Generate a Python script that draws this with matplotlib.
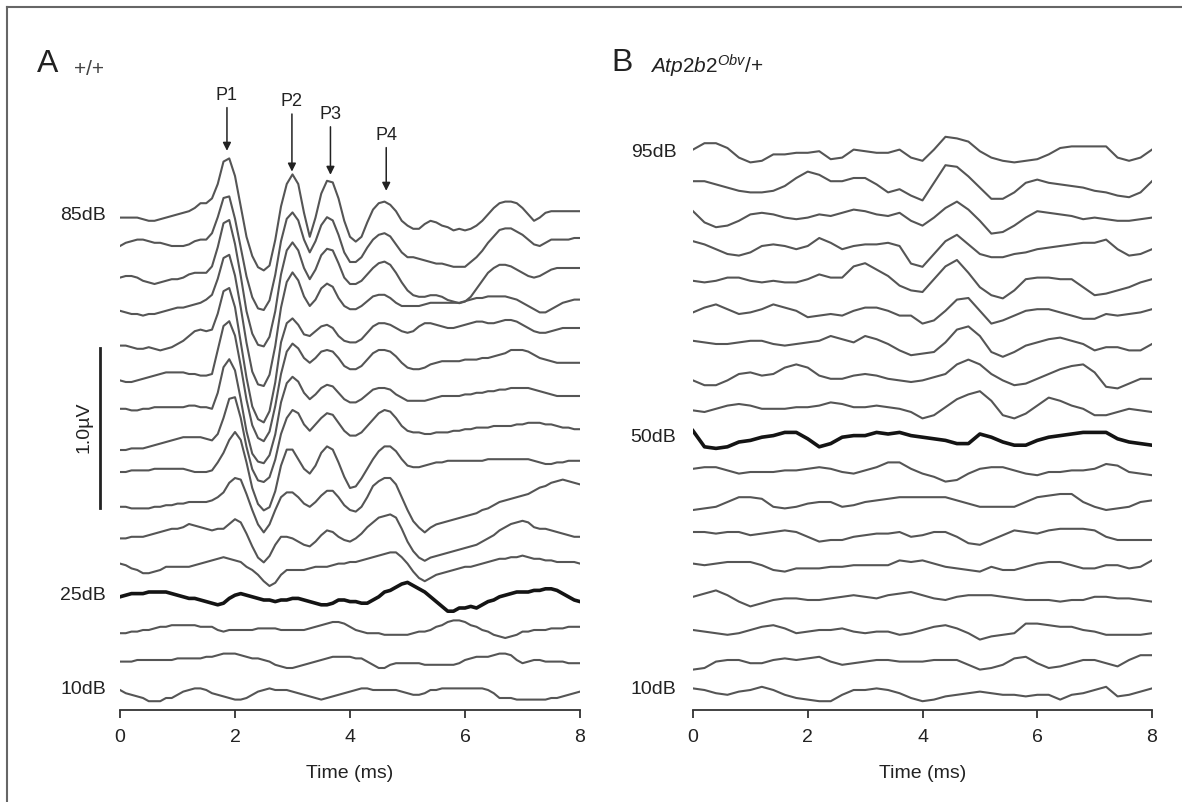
import numpy as np
import matplotlib.pyplot as plt
from matplotlib.lines import Line2D

plt.rcParams['font.family'] = ['Liberation Sans', 'DejaVu Sans']
plt.rcParams['mathtext.fontset'] = 'custom'
plt.rcParams['mathtext.it'] = 'Liberation Sans:italic'
plt.rcParams['mathtext.rm'] = 'Liberation Sans'

# sampling times (ms)
time_a = np.linspace(0, 8, 81)
time_b = np.linspace(0, 8, 41)

# stimulus levels (dB)
levels_a = [85, 80, 75, 70, 65, 60, 55, 50, 45, 40, 35, 30, 25, 20, 15, 10]
levels_b = [95, 90, 85, 80, 75, 70, 65, 60, 55, 50, 45, 40, 35, 30, 25, 20, 15, 10]

# ABR amplitudes, units of 0.01 uV
# panel A (+/+), one value every 0.1 ms
a85 = [-1, -1, -1, -1, -2, -3, -3, -2, -1, 0,
       1, 2, 3, 5, 8, 8, 11, 20, 34, 36,
       25, 6, -13, -25, -32, -34, -31, -15, 6, 20,
       26, 20, 2, -13, -1, 14, 22, 21, 11, -3,
       -13, -16, -13, -4, 4, 8, 9, 7, 3, -3,
       -6, -8, -8, -5, -3, -4, -6, -7, -9, -8,
       -9, -8, -6, -3, 1, 5, 8, 9, 9, 8,
       5, 1, -3, -1, 2, 3, 3, 3, 3, 3,
       3]
a80 = [1, 3, 4, 5, 5, 4, 3, 3, 2, 1,
       1, 1, 2, 4, 5, 5, 9, 19, 31, 32,
       18, 0, -18, -31, -38, -39, -33, -17, 4, 18,
       22, 17, 5, -3, 4, 14, 19, 17, 8, -3,
       -9, -9, -6, 0, 5, 8, 9, 7, 2, -3,
       -6, -6, -7, -8, -9, -10, -10, -11, -12, -12,
       -12, -9, -6, -2, 3, 7, 11, 12, 12, 10,
       8, 5, 2, 1, 3, 5, 5, 5, 5, 6,
       6]
a75 = [1, 2, 2, 1, -1, -2, -3, -2, -1, 0,
       0, 1, 3, 4, 4, 4, 8, 20, 35, 37,
       22, 2, -20, -34, -41, -42, -36, -20, 3, 18,
       23, 18, 7, 0, 6, 15, 19, 18, 10, 1,
       -3, -3, -1, 3, 7, 10, 11, 9, 4, -2,
       -7, -10, -11, -11, -10, -10, -11, -13, -14, -15,
       -14, -11, -6, -1, 4, 7, 9, 9, 8, 6,
       4, 2, 1, 2, 4, 6, 7, 7, 7, 7,
       7]
a70 = [0, -1, -2, -2, -3, -2, -2, -1, 0, 1,
       2, 2, 3, 4, 5, 7, 10, 20, 33, 35,
       22, 2, -20, -38, -46, -47, -40, -22, 2, 18,
       24, 19, 9, 3, 7, 14, 17, 15, 8, 3,
       1, 1, 3, 6, 9, 10, 10, 8, 5, 3,
       3, 3, 3, 4, 5, 5, 5, 5, 5, 5,
       6, 7, 8, 8, 9, 9, 9, 9, 8, 7,
       5, 3, 1, -1, -1, 1, 3, 5, 6, 7,
       7]
a65 = [-2, -2, -3, -4, -4, -3, -4, -5, -4, -3,
       -1, 1, 4, 7, 8, 7, 8, 18, 32, 34,
       22, 0, -22, -40, -48, -50, -43, -25, 0, 12,
       15, 11, 5, 4, 7, 10, 11, 9, 4, 1,
       0, 0, 2, 6, 10, 12, 12, 11, 9, 7,
       6, 7, 10, 12, 12, 11, 10, 9, 9, 10,
       11, 12, 13, 13, 12, 12, 13, 14, 14, 13,
       11, 9, 7, 6, 6, 7, 8, 9, 9, 9,
       9]
a60 = [-4, -5, -5, -4, -3, -2, -1, 0, 1, 1,
       1, 1, 0, 0, -1, -1, 0, 15, 30, 33,
       24, 5, -16, -32, -40, -42, -36, -20, 0, 14,
       19, 16, 10, 7, 10, 14, 15, 14, 10, 5,
       3, 3, 5, 9, 13, 15, 15, 14, 11, 7,
       4, 3, 3, 4, 6, 7, 8, 8, 8, 8,
       9, 9, 9, 10, 10, 11, 12, 13, 15, 15,
       15, 14, 12, 10, 9, 8, 7, 7, 7, 7,
       7]
a55 = [-2, -2, -3, -3, -2, -2, -1, -1, -1, -1,
       -1, -1, 0, 0, -1, -1, -2, 8, 24, 29,
       22, 4, -16, -30, -35, -36, -31, -18, 2, 14,
       18, 15, 8, 4, 7, 11, 13, 12, 8, 4,
       2, 2, 4, 7, 10, 11, 11, 10, 7, 5,
       3, 3, 3, 3, 4, 5, 6, 6, 6, 6,
       7, 7, 8, 8, 9, 9, 10, 10, 11, 11,
       11, 11, 10, 9, 8, 7, 6, 6, 6, 6,
       6]
a50 = [-8, -8, -7, -7, -7, -6, -5, -4, -3, -2,
       -1, 0, 0, 0, 0, -1, -2, 2, 12, 24,
       25, 12, -6, -20, -27, -28, -25, -14, 2, 12,
       17, 15, 8, 4, 8, 12, 15, 14, 9, 4,
       1, 1, 3, 7, 11, 15, 17, 16, 12, 7,
       4, 3, 3, 2, 2, 3, 3, 3, 4, 4,
       5, 5, 6, 6, 6, 7, 7, 7, 7, 8,
       8, 9, 9, 9, 8, 8, 7, 6, 6, 5,
       5]
a45 = [-2, -2, -1, -1, -1, -1, 0, 0, 0, 0,
       0, 0, -1, -2, -2, -2, -1, 4, 10, 18,
       23, 18, 4, -12, -22, -26, -24, -14, 2, 12,
       12, 6, 0, -3, 2, 10, 14, 12, 4, -5,
       -12, -11, -6, 0, 6, 11, 14, 14, 11, 6,
       2, 1, 1, 2, 3, 4, 4, 5, 5, 5,
       5, 5, 5, 5, 6, 6, 6, 6, 6, 6,
       6, 6, 5, 4, 3, 3, 4, 4, 5, 5,
       5]
a40 = [-4, -4, -5, -5, -5, -5, -4, -4, -3, -3,
       -2, -2, -1, -1, -1, -1, 0, 2, 5, 11,
       14, 13, 4, -6, -15, -20, -15, -6, 2, 5,
       5, 2, -2, -4, -1, 3, 6, 6, 2, -3,
       -6, -7, -4, 2, 9, 12, 14, 14, 10, 2,
       -6, -13, -17, -20, -17, -15, -14, -13, -12, -11,
       -10, -9, -8, -6, -5, -3, -1, 0, 1, 2,
       3, 4, 6, 8, 9, 11, 12, 13, 12, 11,
       10]
a35 = [-4, -4, -3, -3, -3, -2, -1, 0, 1, 2,
       2, 3, 5, 4, 3, 2, 1, 2, 2, 5,
       8, 6, -1, -9, -16, -19, -15, -8, -3, -3,
       -4, -6, -8, -9, -6, -2, 1, 0, -3, -5,
       -6, -4, -1, 3, 6, 9, 10, 11, 9, 2,
       -6, -12, -16, -18, -16, -15, -14, -13, -12, -11,
       -10, -9, -8, -6, -4, -2, 1, 3, 5, 6,
       7, 6, 3, 2, 2, 1, 0, -1, -2, -3,
       -3]
a30 = [0, -1, -3, -4, -6, -6, -5, -4, -2, -2,
       -2, -2, -2, -1, 0, 1, 2, 3, 4, 3,
       2, 1, -2, -4, -7, -11, -14, -12, -7, -4,
       -4, -4, -4, -3, -2, -2, -2, -1, 0, 0,
       1, 1, 2, 3, 4, 5, 6, 7, 7, 4,
       0, -5, -9, -11, -9, -7, -6, -5, -4, -3,
       -2, -2, -1, 0, 1, 2, 3, 3, 4, 4,
       5, 4, 3, 3, 2, 2, 1, 1, 1, 1,
       0]
a25 = [-1, 0, 1, 1, 1, 2, 2, 2, 2, 1,
       0, -1, -2, -2, -3, -4, -5, -6, -5, -2,
       0, 1, 0, -1, -2, -3, -3, -4, -3, -3,
       -2, -2, -3, -4, -5, -6, -6, -5, -3, -3,
       -4, -4, -5, -5, -3, -1, 2, 3, 5, 7,
       8, 6, 4, 2, -1, -4, -7, -10, -10, -8,
       -8, -7, -8, -6, -4, -3, -1, 0, 1, 2,
       2, 2, 3, 3, 4, 4, 3, 1, -1, -3,
       -4]
a20 = [-4, -4, -3, -3, -2, -2, -1, 0, 0, 1,
       1, 1, 1, 1, 0, 0, 0, -2, -3, -2,
       -2, -2, -2, -2, -1, -1, -1, -1, -2, -2,
       -2, -2, -2, -1, 0, 1, 2, 3, 3, 2,
       0, -2, -3, -4, -4, -4, -5, -5, -5, -5,
       -5, -4, -3, -3, -2, 0, 1, 3, 4, 4,
       3, 1, 0, -2, -3, -5, -6, -7, -6, -5,
       -3, -3, -2, -2, -2, -1, -1, -1, 0, 0,
       0]
a15 = [-2, -2, -2, -1, -1, -1, -1, -1, -1, -1,
       0, 0, 0, 0, 0, 1, 1, 2, 3, 3,
       3, 2, 1, 0, 0, -1, -2, -4, -5, -6,
       -6, -5, -4, -3, -2, -1, 0, 1, 1, 1,
       1, 0, 0, -2, -4, -6, -6, -4, -3, -3,
       -3, -3, -3, -4, -4, -4, -4, -4, -4, -3,
       -1, 0, 1, 1, 1, 2, 3, 3, 2, -1,
       -3, -2, -1, -1, -2, -2, -2, -2, -3, -3,
       -3]
a10 = [0, -2, -3, -4, -5, -7, -7, -7, -5, -5,
       -3, -1, 0, 1, 1, 0, -2, -3, -4, -5,
       -6, -6, -5, -3, -1, 0, 1, 0, 0, 0,
       -1, -2, -3, -4, -5, -6, -5, -4, -3, -2,
       -1, 0, 1, 1, 0, 0, 0, 0, 0, -1,
       -2, -3, -3, -2, 0, 0, 1, 1, 1, 1,
       1, 1, 1, 1, 0, -2, -5, -5, -5, -6,
       -6, -6, -6, -6, -6, -5, -5, -4, -3, -2,
       -1]

# panel B (Atp2b2 Obv/+), one value every 0.2 ms
b95 = [2, 6, 6, 3, -3, -6, -5, -1, -1, 0, 0, 1, -4, -3, 2, 1, 0, 0, 2, -3,
       -5, 2, 10, 9, 7, 1, -3, -5, -6, -5, -4, -1, 3, 4, 4, 4, 4, -3, -5, -3, 2]
b90 = [2, 2, 0, -2, -4, -5, -5, -4, -1, 4, 8, 6, 2, 2, 4, 4, 0, -5, -3, -7,
       -10, 1, 12, 11, 5, -2, -9, -9, -5, 1, 3, 1, 0, -1, -2, -4, -5, -7, -8, -5, 2]
b85 = [3, -4, -7, -6, -3, 1, 2, 1, -1, -2, -1, 1, 0, 2, 4, 3, 1, 0, 2, -3,
       -6, -1, 5, 9, 4, -3, -11, -10, -6, -1, 3, 2, 1, 0, -2, -1, -2, -3, -3, -2, -1]
b80 = [4, 2, -1, -4, -5, -3, 1, 2, 1, -1, 1, 6, 3, -1, 1, 2, 2, 3, 1, -10,
       -12, -4, 4, 8, 2, -4, -6, -6, -4, -3, -1, 0, 1, 2, 3, 3, 5, -1, -5, -4, -1]
b75 = [-1, -2, -1, 1, 1, -1, -2, -1, -2, -2, 0, 3, 1, 1, 8, 10, 6, 2, -4, -7,
       -8, 0, 8, 12, 4, -5, -10, -12, -7, 0, 1, 1, 0, 0, -5, -10, -9, -7, -5, -2, 0]
b70 = [-1, 2, 4, 1, -2, -1, 1, 4, 2, 0, -4, -3, -2, -3, 0, 2, 2, 0, -3, -3,
       -8, -6, 0, 7, 8, 0, -8, -6, -3, 0, 1, 1, -1, -3, -5, -5, -2, -3, -2, -1, 1]
b65 = [1, 0, -1, -1, 0, 1, 1, -1, -2, -1, 0, 1, 4, 2, 0, 4, 2, -1, -5, -8,
       -7, -6, 0, 8, 10, 4, -6, -9, -6, -2, 0, 2, 3, 1, -1, -5, -3, -3, -5, -5, -1]
b60 = [-4, -7, -7, -4, 0, 1, -1, 0, 4, 6, 4, -1, -3, -3, -1, 0, -1, -3, -4, -5,
       -4, -2, 0, 6, 9, 6, 0, -4, -7, -6, -3, 0, 3, 5, 6, 1, -8, -9, -6, -3, -3]
b55 = [-3, -4, -2, 0, 1, 0, -2, -2, -2, -1, -1, 0, 2, 1, -1, -1, 0, -1, -2, -4,
       -8, -6, -1, 4, 7, 9, 3, -6, -8, -5, 0, 5, 3, 0, -2, -6, -6, -4, -2, -3, -4]
b50 = [4, -6, -7, -6, -3, -2, 0, 1, 3, 3, -1, -6, -4, 0, 1, 1, 3, 2, 3, 1,
       0, -1, -2, -4, -4, 2, 0, -3, -5, -5, -2, 0, 1, 2, 3, 3, 3, -1, -3, -4, -5]
b45 = [0, 1, 1, -1, -3, -2, -2, -2, -1, -1, 0, 1, 0, -2, -3, -1, 1, 4, 4, 0,
       -3, -5, -8, -7, -3, 0, 1, 1, -1, -3, -4, -2, -2, -1, -1, 0, 3, 2, -2, -3, -4]
b40 = [-6, -5, -4, -1, 2, 2, 1, -4, -5, -4, -2, -1, -1, -4, -3, -1, 0, 1, 2, 2,
       2, 2, 2, 0, -2, -4, -4, -4, -4, -1, 2, 3, 4, 4, -1, -4, -6, -5, -4, -1, 0]
b35 = [0, 0, -1, 0, 0, -2, -1, 0, 1, 0, -3, -6, -5, -5, -3, -2, -1, -1, 0, -3,
       -2, 0, 0, -3, -7, -8, -5, -2, 1, 0, -1, 1, 2, 2, 2, 1, -3, -5, -5, -5, -5]
b30 = [0, -1, 0, 1, 1, 1, -1, -4, -5, -3, -3, -3, -2, -2, -1, -1, -1, -1, 2, 1,
       2, 0, -2, -3, -4, -5, -2, -4, -4, -2, 0, 1, 1, -1, -3, -3, -1, -1, -3, -2, 2]
b25 = [-1, 1, 3, 0, -4, -7, -5, -3, -2, -2, -3, -3, -2, -1, 0, -1, -2, 0, 1, 2,
       0, -2, -3, -1, 0, 0, 0, -1, -2, -3, -3, -3, -4, -3, -3, -1, -1, -2, -2, -3, -4]
b20 = [-2, -3, -4, -5, -4, -2, 0, 1, -1, -4, -3, -2, -2, -1, -3, -4, -3, -3, -5, -4,
       -2, 0, 1, -1, -4, -8, -6, -5, -4, 2, 2, 1, 0, 0, -2, -3, -5, -5, -5, -5, -4]
b15 = [-7, -6, -2, -1, -1, -3, -3, -1, 0, -1, 0, 1, -2, -4, -3, -2, -1, -1, -2, -2,
       -2, -1, -1, -1, -4, -7, -6, -4, 0, 1, -3, -6, -5, -3, -1, -1, -3, -5, -1, 2, 2]
b10 = [1, 0, -2, -3, -1, 0, 2, 0, -3, -5, -6, -7, -7, -3, 0, 0, 1, 0, -2, -5,
       -7, -6, -4, -3, -2, -1, -2, -3, -3, -4, -3, -3, -6, -3, -2, 0, 2, -4, -3, -1, 1]

waves_a = [a85, a80, a75, a70, a65, a60, a55, a50, a45, a40, a35, a30, a25, a20, a15, a10]
waves_b = [b95, b90, b85, b80, b75, b70, b65, b60, b55, b50, b45, b40, b35, b30, b25, b20,
           b15, b10]

threshold_a = 25
threshold_b = 50
labelled_a = [85, 25, 10]
labelled_b = [95, 50, 10]

# peak markers in panel A: (label, time ms)
peaks = [('P1', 1.86), ('P2', 2.99), ('P3', 3.66), ('P4', 4.63)]

STEP = 0.1975  # vertical offset for each 5 dB step (uV)
W, H = 1182, 802
TXT = '#222222'

fig = plt.figure(figsize=(W / 100, H / 100), dpi=100)


def add_ax(x0, x1, y_top, y_bot):
    return fig.add_axes([x0 / W, 1 - y_bot / H, (x1 - x0) / W, (y_bot - y_top) / H])


def draw_panel(ax, t, levels, waves, thresh, labelled, label_x):
    for lvl, w in zip(levels, waves):
        base = (lvl - 10) / 5 * STEP
        y = base + np.asarray(w) * 0.01
        if lvl == thresh:
            ax.plot(t, y, color='#141414', lw=2.6, solid_joinstyle='round', zorder=3)
        else:
            ax.plot(t, y, color='#555555', lw=1.5, solid_joinstyle='round')
        if lvl in labelled:
            ax.text(label_x, base, f'{lvl}dB', ha='right', va='center', fontsize=14, color=TXT)
    ax.set_xlim(0, 8)
    ax.set_ylim(-0.125, 3.8125)
    for s in ['left', 'top', 'right']:
        ax.spines[s].set_visible(False)
    ax.spines['bottom'].set_color('#333333')
    ax.spines['bottom'].set_linewidth(1.3)
    ax.set_yticks([])
    ax.set_xticks([0, 2, 4, 6, 8])
    ax.tick_params(axis='x', direction='out', length=6, width=1.3, color='#333333',
                   labelsize=14, pad=8, labelcolor=TXT)
    ax.set_xlabel('Time (ms)', fontsize=14, labelpad=13, color=TXT)
    ax.patch.set_visible(False)


ax_a = add_ax(120, 580, 80, 710)
ax_b = add_ax(693, 1152, 80, 710)

draw_panel(ax_a, time_a, levels_a, waves_a, threshold_a, labelled_a, -0.24)
draw_panel(ax_b, time_b, levels_b, waves_b, threshold_b, labelled_b, -0.29)

# 1.0 uV scale bar
ax_a.plot([-0.35, -0.35], [1.14, 2.14], color='#222222', lw=2, clip_on=False)
ax_a.text(-0.62, 1.64, '1.0\u00b5V', rotation=90, ha='center', va='center', fontsize=14, color=TXT)

# peak arrows
arrow_top = {'P1': 3.64, 'P2': 3.60, 'P3': 3.52, 'P4': 3.39}
arrow_tip = {'P1': 3.37, 'P2': 3.24, 'P3': 3.22, 'P4': 3.12}
for name, tp in peaks:
    ax_a.annotate('', xy=(tp, arrow_tip[name]), xytext=(tp, arrow_top[name]),
                  arrowprops=dict(arrowstyle='-|>', color='#222222', lw=1.1, mutation_scale=12,
                                  shrinkA=0, shrinkB=0), annotation_clip=False)
    ax_a.text(tp, arrow_top[name] + 0.025, name, ha='center', va='bottom', fontsize=13, color=TXT)

# panel letters and genotypes
fig.text(37 / W, 1 - 72 / H, 'A', fontsize=23, color=TXT, va='baseline')
fig.text(74 / W, 1 - 75 / H, '+/+', fontsize=15, color='#444444', va='baseline')
fig.text(611 / W, 1 - 71 / H, 'B', fontsize=23, color=TXT, va='baseline')
fig.text(650 / W, 1 - 74 / H, r'$\mathit{Atp2b2}^{\mathit{Obv}}$/+', fontsize=15, color=TXT,
         va='baseline')

# frame edges (left and top only)
fig.add_artist(Line2D([7 / W, 7 / W], [0, 1 - 7 / H], color='#666666', lw=1.5))
fig.add_artist(Line2D([7 / W, 1], [1 - 7 / H, 1 - 7 / H], color='#666666', lw=1.5))

fig.savefig('out.png', dpi=100)
